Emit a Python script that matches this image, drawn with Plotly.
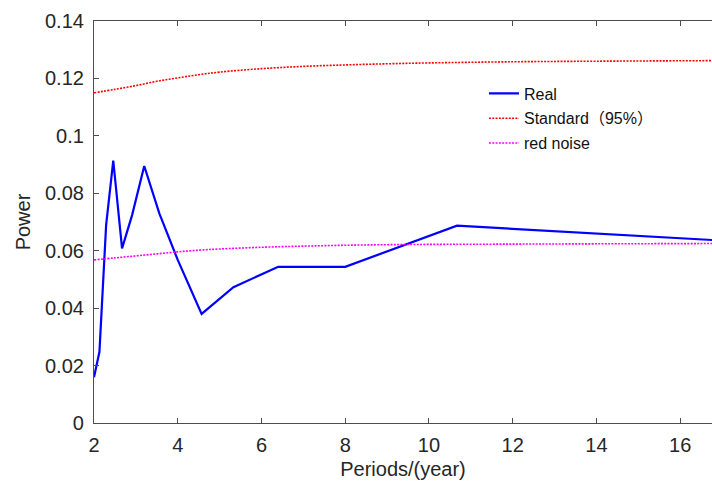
import plotly.graph_objects as go

# Real spectrum
real_period = [2.0, 2.13, 2.29, 2.46, 2.67, 2.91, 3.2, 3.56, 4.0, 4.57, 5.33, 6.4, 8.0, 10.67, 16.8]
real_power = [0.0159, 0.0248, 0.0690, 0.0914, 0.0608, 0.0724, 0.0895, 0.0730, 0.0568, 0.0380,
              0.0473, 0.0544, 0.0544, 0.0687, 0.0637]

# Smooth reference curves
ref_period = [2.0, 2.5, 3.0, 3.5, 4.0, 4.5, 5.0, 6.0, 7.0, 8.0, 9.0, 10.0, 12.0, 14.0, 16.8]
standard_power = [0.1150, 0.1162, 0.1175, 0.1190, 0.1202, 0.1213, 0.1222, 0.1234, 0.1242,
                  0.1247, 0.1251, 0.1254, 0.1258, 0.1260, 0.1262]
rednoise_power = [0.0568, 0.0575, 0.0582, 0.0589, 0.0596, 0.0602, 0.0606, 0.0612, 0.0616,
                  0.0619, 0.0621, 0.0622, 0.0623, 0.0624, 0.0625]

x_ticks = [2, 4, 6, 8, 10, 12, 14, 16]
y_ticks = [0, 0.02, 0.04, 0.06, 0.08, 0.1, 0.12, 0.14]
y_ticktext = ["0", "0.02", "0.04", "0.06", "0.08", "0.1", "0.12", "0.14"]

FONT = "Liberation Sans, Arial, Noto Sans CJK SC, sans-serif"
AX = "#4d4d4d"
TXT = "#262626"

fig = go.Figure()
fig.add_trace(go.Scatter(x=real_period, y=real_power, mode="lines", name="Real",
                         legendgroup="a",
                         line=dict(color="#0000ff", width=2.2)))
fig.add_trace(go.Scatter(x=ref_period, y=standard_power, mode="lines", name="Standard（95%）",
                         legendgroup="b",
                         line=dict(color="#ff0000", width=1.6, dash="2px,1.3px", shape="spline")))
fig.add_trace(go.Scatter(x=ref_period, y=rednoise_power, mode="lines", name="red noise",
                         legendgroup="c",
                         line=dict(color="#ff00ff", width=1.6, dash="2px,1.3px", shape="spline")))

fig.update_layout(
    width=712, height=484,
    margin=dict(l=94, r=0, t=21, b=61),
    paper_bgcolor="white", plot_bgcolor="white",
    font=dict(family=FONT, color=TXT),
    showlegend=True,
    legend=dict(x=0.631, y=0.862, xanchor="left", yanchor="top",
                bgcolor="rgba(0,0,0,0)", borderwidth=0,
                font=dict(size=16, color="#111111"), tracegroupgap=1),
    xaxis=dict(range=[2, 16.76], tickvals=x_ticks, ticks="inside", ticklen=5,
               tickcolor=AX, showline=True, linecolor=AX, linewidth=1.2,
               mirror="ticks", showgrid=False, zeroline=False,
               ticklabelstandoff=4,
               tickfont=dict(size=20, color=TXT),
               title=dict(text="Periods/(year)", font=dict(size=20, color=TXT), standoff=6)),
    yaxis=dict(range=[0, 0.14], tickvals=y_ticks, ticktext=y_ticktext, ticks="inside",
               ticklen=5, tickcolor=AX, showline=True, linecolor=AX, linewidth=1.2,
               showgrid=False, zeroline=False,
               ticklabelstandoff=5,
               tickfont=dict(size=20, color=TXT),
               title=dict(text="Power", font=dict(size=20, color=TXT), standoff=8)),
)

fig.write_html("out.html", config={"displayModeBar": False},
               post_script="document.body.style.margin='0';")
